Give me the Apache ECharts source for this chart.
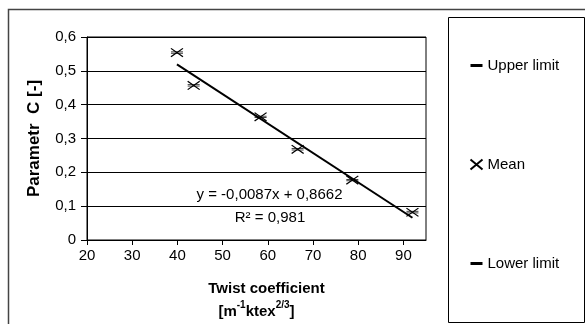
<!DOCTYPE html>
<html>
<head>
<meta charset="utf-8">
<script src="https://cdn.jsdelivr.net/npm/echarts@6/dist/echarts.min.js"></script>
<style>html,body{margin:0;padding:0;background:#fff}#c{width:585px;height:324px}</style>
</head>
<body>
<div id="c"></div>
<script>
// Data
const twist = [39.9, 43.6, 58.4, 66.6, 78.7, 92.0];
const meanC = [0.554, 0.457, 0.364, 0.268, 0.177, 0.082];
const upperC = [0.556, 0.459, 0.366, 0.270, 0.179, 0.085];
const lowerC = [0.552, 0.455, 0.362, 0.266, 0.175, 0.080];
const trendSlope = -0.0087;
const trendIntercept = 0.8662;
const rSquared = '0,981';
const seriesNames = ['Upper limit', 'Mean', 'Lower limit'];

const FONT = "'Liberation Sans', Arial, sans-serif";
const pairs = (xs, ys) => xs.map((x, i) => [x, ys[i]]);
const xMin = Math.min(...twist), xMax = Math.max(...twist);
const trend = [[xMin, trendSlope * xMin + trendIntercept], [xMax, trendSlope * xMax + trendIntercept]];
const fmtNum = v => String(v).replace('.', ',');
const eqText = 'y = ' + fmtNum(trendSlope.toFixed(4)) + 'x + ' + fmtNum(trendIntercept.toFixed(4));

const dashSym = 'path://M0,0L12,0L12,3L0,3Z';
const xSym = 'path://M0,0L12,10M12,0L0,10';

const chart = echarts.init(document.getElementById('c'), null, {renderer: 'canvas'});
chart.setOption({
  animation: false,
  backgroundColor: '#fff',
  textStyle: {fontFamily: FONT, color: '#000'},
  grid: {left: 87, right: 159, top: 37, bottom: 83, show: true, borderColor: '#000', borderWidth: 1, backgroundColor: 'transparent'},
  xAxis: {
    type: 'value', min: 20, max: 95, interval: 10,
    axisLine: {show: true, onZero: false, lineStyle: {color: '#000'}},
    axisTick: {show: true, inside: false, length: 5, lineStyle: {color: '#000'}},
    axisLabel: {fontSize: 15, color: '#000', fontFamily: FONT, margin: 8, showMaxLabel: false},
    splitLine: {show: false},
    name: '{t|Twist coefficient}\n{b|[m}{s|-1}{b|ktex}{s|2/3}{b|]}',
    nameLocation: 'middle', nameGap: 37,
    nameTextStyle: {
      fontFamily: FONT, color: '#000',
      rich: {
        t: {fontSize: 15, fontWeight: 'bold', lineHeight: 23, fontFamily: FONT, padding: [0, 0, 0, 20]},
        b: {fontSize: 15, fontWeight: 'bold', lineHeight: 23, fontFamily: FONT},
        s: {fontSize: 10, fontWeight: 'bold', lineHeight: 23, fontFamily: FONT, verticalAlign: 'top', padding: [0, 0, 8, 0]}
      }
    }
  },
  yAxis: {
    type: 'value', min: 0, max: 0.6, interval: 0.1,
    axisLine: {show: true, lineStyle: {color: '#000'}},
    axisTick: {show: true, inside: false, length: 6, lineStyle: {color: '#000'}},
    axisLabel: {fontSize: 15, color: '#000', fontFamily: FONT, margin: 11,
      formatter: v => v === 0 ? '0' : v.toFixed(1).replace('.', ',')},
    splitLine: {show: true, lineStyle: {color: '#000', width: 1}},
    name: 'Parametr  C [-]', nameLocation: 'middle', nameGap: 44, nameRotate: 90,
    nameTextStyle: {fontSize: 17, fontWeight: 'bold', color: '#000', fontFamily: FONT}
  },
  legend: {
    orient: 'vertical', left: 468, top: 58, itemGap: 84, padding: 0,
    itemWidth: 12, itemHeight: 10,
    data: seriesNames,
    textStyle: {fontSize: 15, color: '#000', fontFamily: FONT},
    selectedMode: false
  },
  series: [
    {
      name: 'Trend', type: 'line', data: trend, showSymbol: false, symbol: 'none',
      lineStyle: {color: '#000', width: 2}, silent: true, z: 2
    },
    {
      name: seriesNames[0], type: 'scatter', data: pairs(twist, upperC),
      symbol: dashSym, symbolSize: [12, 3], symbolKeepAspect: true,
      itemStyle: {color: '#000', opacity: 1}, z: 3
    },
    {
      name: seriesNames[1], type: 'scatter', data: pairs(twist, meanC),
      symbol: xSym, symbolSize: [12, 10], symbolKeepAspect: true,
      itemStyle: {color: 'none', borderColor: '#000', borderWidth: 1.2, opacity: 1}, z: 4
    },
    {
      name: seriesNames[2], type: 'scatter', data: pairs(twist, lowerC),
      symbol: dashSym, symbolSize: [12, 3], symbolKeepAspect: true,
      itemStyle: {color: '#000', opacity: 1}, z: 3
    }
  ],
  graphic: [
    {type: 'rect', shape: {x: 8.5, y: 9.5, width: 700, height: 400}, style: {fill: 'none', stroke: '#444', lineWidth: 1.5}, silent: true, z: -10},
    {type: 'rect', shape: {x: 448.5, y: 17.5, width: 136, height: 305}, style: {fill: '#fff', stroke: '#000', lineWidth: 1}, silent: true, z: -5},
    {type: 'text', x: 269.5, y: 195, style: {text: eqText, font: '15px ' + FONT, fill: '#000', align: 'center', verticalAlign: 'middle'}, z: 10},
    {type: 'text', x: 270, y: 218, style: {text: 'R² = ' + rSquared, font: '15px ' + FONT, fill: '#000', align: 'center', verticalAlign: 'middle'}, z: 10}
  ]
});
</script>
</body>
</html>
